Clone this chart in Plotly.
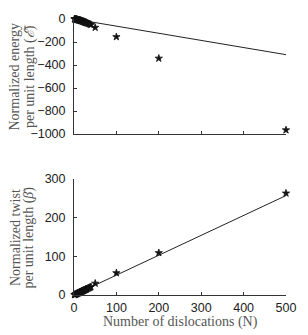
import plotly.graph_objects as go

# ---- data ----
N_small = [1, 2, 3, 4, 5, 6, 7, 8, 9, 10, 11, 12, 13, 14, 15, 16, 17, 18, 19, 20,
           21, 22, 23, 24, 25, 26, 27, 28, 29, 30, 32, 34, 36, 38, 40]
N_large = [50, 100, 200, 500]

energy_small = [0, -1, -1, -2, -3, -4, -5, -6, -7, -8, -9, -10, -11, -12, -13, -14,
                -15, -16, -18, -20, -21, -22, -23, -25, -27, -28, -29, -31, -32, -34,
                -37, -40, -43, -46, -50]
energy_large = [-74, -155, -342, -965]

twist_small = [0.5, 1, 1.5, 2, 2.6, 3.1, 3.6, 4.1, 4.7, 5.2, 5.7, 6.2, 6.8, 7.3, 7.8,
               8.3, 8.9, 9.4, 9.9, 10.5, 11, 11.5, 12, 12.6, 13.1, 13.6, 14.1, 14.7,
               15.2, 15.7, 16.8, 17.8, 18.9, 19.9, 21]
twist_large = [30, 57, 109, 263]

fit_N = [0, 500]
energy_fit = [0, -310]
twist_fit = [0, 257]

x_ticks = [0, 100, 200, 300, 400, 500]
energy_ticks = [0, -200, -400, -600, -800, -1000]
twist_ticks = [0, 100, 200, 300]

N_all = N_small + N_large
energy_all = energy_small + energy_large
twist_all = twist_small + twist_large

fig = go.Figure()

marker = dict(symbol="star", size=5.5, color="#111111",
              line=dict(color="#111111", width=0.8))

fig.add_trace(go.Scatter(x=fit_N, y=energy_fit, mode="lines",
                         line=dict(color="#222222", width=1), xaxis="x", yaxis="y",
                         showlegend=False, hoverinfo="skip"))
fig.add_trace(go.Scatter(x=N_all, y=energy_all, mode="markers", marker=marker,
                         xaxis="x", yaxis="y", showlegend=False, cliponaxis=False))
fig.add_trace(go.Scatter(x=fit_N, y=twist_fit, mode="lines",
                         line=dict(color="#222222", width=1), xaxis="x2", yaxis="y2",
                         showlegend=False, hoverinfo="skip"))
fig.add_trace(go.Scatter(x=N_all, y=twist_all, mode="markers", marker=marker,
                         xaxis="x2", yaxis="y2", showlegend=False, cliponaxis=False))

tickfont = dict(family="Liberation Sans, Arial, sans-serif", size=12.5, color="#222222")
serif = "Liberation Serif, DejaVu Serif, serif"
title_font = dict(family=serif, size=14, color="#555555")

axis_common = dict(showgrid=False, zeroline=False, showline=True, linecolor="#333333",
                   linewidth=1, ticks="inside", ticklen=3, tickcolor="#333333",
                   tickfont=tickfont)

fig.update_layout(
    width=308, height=335,
    margin=dict(l=74, r=15, t=12, b=40),
    plot_bgcolor="white", paper_bgcolor="white",
    xaxis=dict(axis_common, domain=[0, 1], range=[0, 500], tickvals=x_ticks,
               showticklabels=False, anchor="y"),
    yaxis=dict(axis_common, domain=[0.583, 1], range=[-1000, 0], tickvals=energy_ticks,
               ticklabelstandoff=5, anchor="x"),
    xaxis2=dict(axis_common, domain=[0, 1], range=[0, 500], tickvals=x_ticks,
                anchor="y2", ticklabelstandoff=1),
    yaxis2=dict(axis_common, domain=[0, 0.4205], range=[0, 300], tickvals=twist_ticks,
                ticklabelstandoff=5, anchor="x2"),
    annotations=[
        dict(text="Normalized energy", xref="paper", yref="paper",
             x=-0.2785, y=0.7915, xanchor="center", yanchor="middle",
             textangle=-90, showarrow=False, font=title_font),
        dict(text="per unit length (<i>ℰ\u0304</i>)", xref="paper", yref="paper",
             x=-0.21, y=0.7915, xanchor="center", yanchor="middle",
             textangle=-90, showarrow=False, font=title_font),
        dict(text="Normalized twist", xref="paper", yref="paper",
             x=-0.2785, y=0.21, xanchor="center", yanchor="middle",
             textangle=-90, showarrow=False, font=title_font),
        dict(text="per unit length (<i>β\u0304</i>)", xref="paper", yref="paper",
             x=-0.21, y=0.21, xanchor="center", yanchor="middle",
             textangle=-90, showarrow=False, font=title_font),
        dict(text="Number of dislocations (N)", xref="paper", yref="paper",
             x=0.5, y=-0.099, xanchor="center", yanchor="middle",
             showarrow=False, font=title_font),
    ],
)

fig.write_html("out.html", config={"displayModeBar": False},
               post_script="document.body.style.margin='0px';")
